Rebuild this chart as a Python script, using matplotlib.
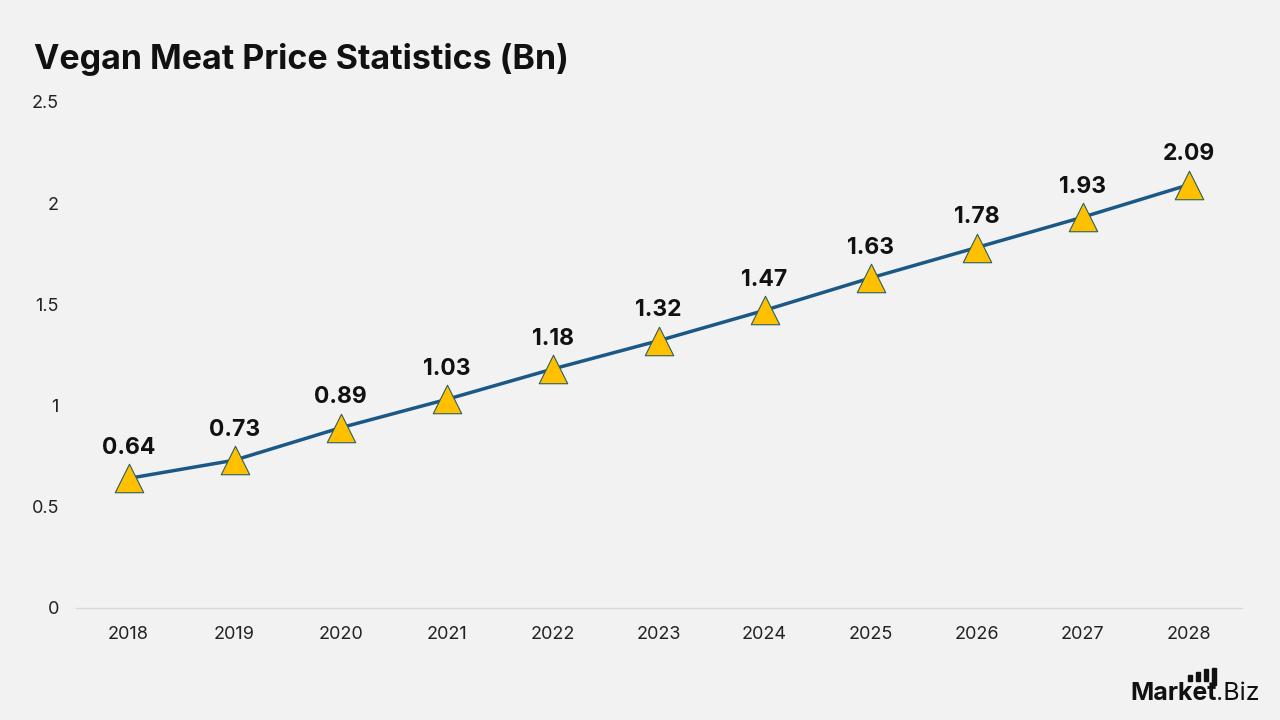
import matplotlib
matplotlib.use("Agg")
import matplotlib.pyplot as plt
from matplotlib.patches import Rectangle

years = ["2018", "2019", "2020", "2021", "2022", "2023", "2024", "2025", "2026", "2027", "2028"]
values = [0.64, 0.73, 0.89, 1.03, 1.18, 1.32, 1.47, 1.63, 1.78, 1.93, 2.09]
yticks = [0, 0.5, 1, 1.5, 2, 2.5]
ytick_labels = ["0", "0.5", "1", "1.5", "2", "2.5"]

plt.rcParams['font.family'] = ['Inter', 'DejaVu Sans']
bg = "#F2F2F2"
fig = plt.figure(figsize=(12.8, 7.2), dpi=100, facecolor=bg)
ax = fig.add_axes([0.059, 0.1556, 0.911, 0.703], facecolor=bg)

x = list(range(len(years)))
ax.plot(x, values, color="#1B5886", lw=2.5, zorder=2)
ax.scatter(x, values, marker="^", s=420, color="#FFC000", edgecolor="#2E5E5E", linewidths=0.8, zorder=3)
for xi, v in zip(x, values):
    ax.annotate(f"{v:.2f}", (xi, v), xytext=(0, 14), textcoords="offset points",
                ha="center", va="bottom", fontsize=16.5, fontweight="bold", color="#111111")

ax.set_xlim(-0.5, len(years) - 0.5)
ax.set_ylim(0, 2.5)
ax.set_xticks(x)
ax.set_xticklabels(years)
ax.set_yticks(yticks)
ax.set_yticklabels(ytick_labels)
ax.tick_params(axis="both", length=0, labelsize=13, colors="#222222")
ax.tick_params(axis="y", pad=12)
ax.tick_params(axis="x", pad=13)
for s in ["top", "right", "left"]:
    ax.spines[s].set_visible(False)
ax.spines["bottom"].set_color("#D9D9D9")
ax.spines["bottom"].set_linewidth(1)

fig.text(34 / 1280, 1 - 60 / 720, "Vegan Meat Price Statistics (Bn)", fontsize=24.5,
         fontweight="bold", color="#111111", ha="left", va="center")

# logo
t1 = fig.text(1130 / 1280, 1 - 693 / 720, "Market", fontsize=18, fontweight="bold", color="#111111",
              ha="left", va="center")
fig.canvas.draw()
bb = t1.get_window_extent()
fig.text(bb.x1 / 1280, 1 - 693 / 720, ".Biz", fontsize=18, color="#111111", ha="left", va="center")
for i, (bx, bh) in enumerate([(1188, 6), (1196, 9), (1204, 12)]):
    fig.add_artist(Rectangle((bx / 1280, 1 - 681 / 720), 4 / 1280, bh / 720,
                             transform=fig.transFigure, color="#111111"))
fig.add_artist(Rectangle((1212 / 1280, 1 - 685 / 720), 4 / 1280, 17 / 720,
                         transform=fig.transFigure, color="#111111"))

fig.savefig("out.png", dpi=100, facecolor=bg)
